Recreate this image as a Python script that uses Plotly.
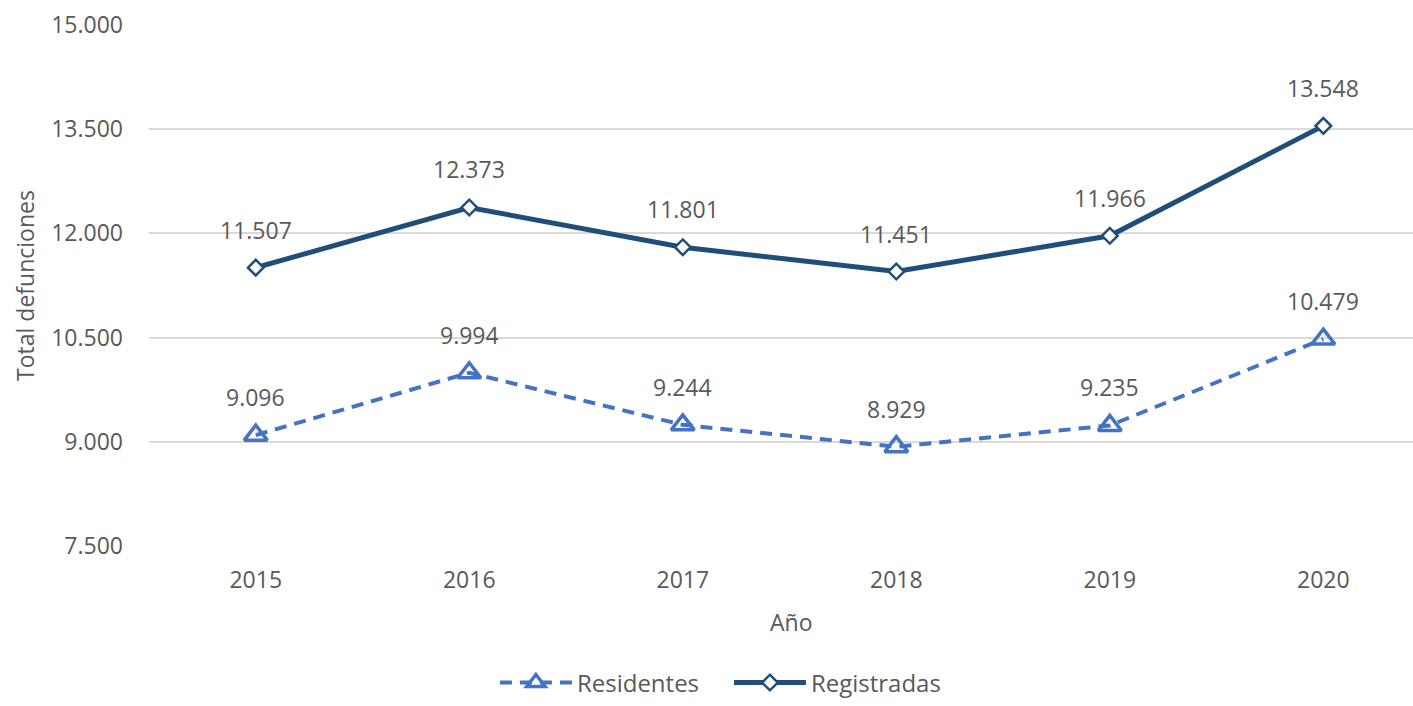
import plotly.graph_objects as go

years = ["2015", "2016", "2017", "2018", "2019", "2020"]
residentes = [9096, 9994, 9244, 8929, 9235, 10479]
registradas = [11507, 12373, 11801, 11451, 11966, 13548]
y_ticks = [7500, 9000, 10500, 12000, 13500, 15000]

def fmt(v):
    return f"{v:,}".replace(",", ".")

FONT = "Open Sans"
GRAY = "#595959"
C_RES = "#4472C4"
C_REG = "#1F4E79"

fig = go.Figure()
fig.add_trace(go.Scatter(
    x=years, y=residentes, name="Residentes", mode="lines+markers",
    line=dict(color=C_RES, width=4, dash="12px,8px"),
    marker=dict(symbol="triangle-up-open", size=20, color=C_RES, line=dict(width=3.5, color=C_RES)),
))
fig.add_trace(go.Scatter(
    x=years, y=registradas, name="Registradas", mode="lines+markers",
    line=dict(color=C_REG, width=5),
    marker=dict(symbol="diamond", size=12, color="white", line=dict(width=2.5, color=C_REG)),
))

for series in (residentes, registradas):
    for i, v in enumerate(series):
        fig.add_annotation(x=i, y=v, xref="x", yref="y", text=fmt(v), showarrow=False,
                           yshift=38, font=dict(family=FONT, size=23, color=GRAY))

fig.add_annotation(x=0.508, xref="paper", y=-0.145, yref="paper", text="Año",
                   showarrow=False, font=dict(family=FONT, size=23, color=GRAY),
                   xanchor="center", yanchor="middle")

fig.update_layout(
    width=1413, height=706,
    margin=dict(l=149, r=0, t=25, b=160, autoexpand=False),
    paper_bgcolor="white", plot_bgcolor="white",
    font=dict(family=FONT, size=23, color=GRAY),
    showlegend=True,
    legend=dict(orientation="h", x=0.4588, xanchor="center", y=-0.306, yanchor="bottom",
                font=dict(family=FONT, size=24, color=GRAY), itemwidth=72,
                entrywidth=147, traceorder="normal", itemsizing="trace"),
    xaxis=dict(type="category", range=[-0.5, 5.42], showgrid=False, showline=False,
               zeroline=False, ticks="", ticklabelstandoff=18, automargin=False,
               tickfont=dict(family=FONT, size=23, color=GRAY)),
    yaxis=dict(range=[7500, 15000], tickvals=y_ticks, ticktext=[fmt(v) for v in y_ticks],
               showgrid=True, gridcolor="#D9D9D9", gridwidth=2, zeroline=False, showline=False,
               ticks="", ticklabelstandoff=25, automargin=False,
               tickfont=dict(family=FONT, size=23, color=GRAY),
               title=dict(text="Total defunciones", font=dict(family=FONT, size=23, color=GRAY),
                          standoff=10)),
)

fig.write_html("out.html", config={"displayModeBar": False},
               post_script="document.body.style.margin='0';document.body.style.overflow='hidden';")
